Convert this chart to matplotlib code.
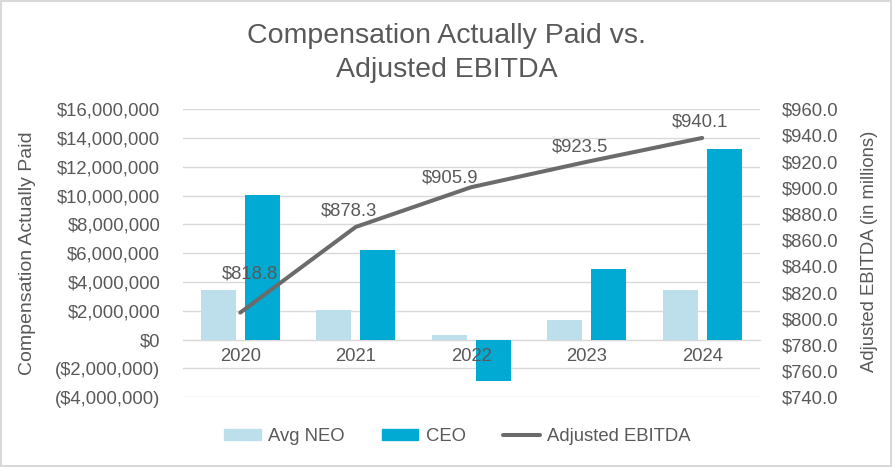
import numpy as np
import matplotlib
matplotlib.use('Agg')
import matplotlib.pyplot as plt
from matplotlib.ticker import FuncFormatter
from matplotlib.patches import Rectangle
from matplotlib.lines import Line2D
from matplotlib.patches import Patch

plt.rcParams['font.family'] = ['Liberation Sans', 'DejaVu Sans']

# datos
years = ['2020', '2021', '2022', '2023', '2024']
avg_neo = [3470000, 2030000, 300000, 1360000, 3470000]
ceo = [10030000, 6240000, -2870000, 4880000, 13230000]
ebitda = [818.8, 878.3, 905.9, 923.5, 940.1]

# desplazamiento de etiquetas (puntos)
label_offsets = [(7, 28), (-4.6, 11.7), (-15, 6.8), (-5, 10.8), (-1.7, 11.7)]

txt = '#595959'
grid_c = '#d9d9d9'
c_neo = '#bddfec'
c_ceo = '#00aad2'
c_line = '#6b6b6b'
fs = 13.3

fig = plt.figure(figsize=(8.93, 4.67), dpi=100)
ax = fig.add_axes([0.2044, 0.1493, 0.6466, 0.6167])

x = np.arange(len(years))
w = 0.303
ax.bar(x - 0.19, avg_neo, w, color=c_neo, zorder=2)
ax.bar(x + 0.19, ceo, w, color=c_ceo, zorder=2)
ax.set_xlim(-0.5, len(years) - 0.5)
ax.set_ylim(-4000000, 16000000)
ax.set_yticks(np.arange(-4000000, 16000001, 2000000))


def money(v, pos):
    if v < 0:
        return '(${:,.0f})'.format(-v)
    return '${:,.0f}'.format(v)


ax.yaxis.set_major_formatter(FuncFormatter(money))
ax.yaxis.grid(True, color=grid_c, lw=1)
ax.yaxis.set_zorder(0.5)
ax.xaxis.set_zorder(4)
for s in ['top', 'left', 'right']:
    ax.spines[s].set_visible(False)
ax.spines['bottom'].set_position(('data', 0))
ax.spines['bottom'].set_color(grid_c)
ax.spines['bottom'].set_zorder(1)
ax.set_xticks(x)
ax.set_xticklabels(years)
ax.tick_params(axis='x', length=0, pad=6, labelsize=fs, labelcolor=txt)
ax.tick_params(axis='y', length=0, pad=16, labelsize=fs, labelcolor=txt)

# eje de la linea
ax2 = ax.twinx()
ax2.plot(x, ebitda, color=c_line, lw=2.9, solid_capstyle='round', zorder=3)
ax2.set_ylim(760, 960)
ax2.set_yticks([])
for s in ax2.spines.values():
    s.set_visible(False)
for xi, v, off in zip(x, ebitda, label_offsets):
    ax2.annotate('${:.1f}'.format(v), (xi, v), xytext=off, textcoords='offset points',
                 ha='center', va='center', fontsize=fs, color=txt)

# eje derecho de etiquetas
ax3 = ax.twinx()
ax3.set_ylim(740, 960)
ax3.set_yticks(np.arange(740, 961, 20))
ax3.yaxis.set_major_formatter(FuncFormatter(lambda v, p: '${:.1f}'.format(v)))
ax3.tick_params(axis='y', length=0, pad=16, labelsize=fs, labelcolor=txt)
for s in ax3.spines.values():
    s.set_visible(False)

fig.text(0.5, 1 - 42.7 / 467, 'Compensation Actually Paid vs.', ha='center', va='baseline',
         fontsize=20.5, color=txt)
fig.text(0.5, 1 - 77.3 / 467, 'Adjusted EBITDA', ha='center', va='baseline',
         fontsize=20.5, color=txt)
fig.text(27.5 / 893, 1 - 253.5 / 467, 'Compensation Actually Paid', rotation=90,
         ha='center', va='center', fontsize=fs + 0.7, color=txt)
fig.text(870 / 893, 1 - 251 / 467, 'Adjusted EBITDA (in millions)', rotation=90,
         ha='center', va='center', fontsize=fs, color=txt)

handles = [Patch(color=c_neo, label='Avg NEO'),
           Patch(color=c_ceo, label='CEO'),
           Line2D([0], [0], color=c_line, lw=2.9, solid_capstyle='round', label='Adjusted EBITDA')]
fig.legend(handles=handles, loc='center', bbox_to_anchor=(0.512, 0.065), ncol=3,
           frameon=False, fontsize=fs, labelcolor=txt, handlelength=2.0,
           handleheight=0.5, handletextpad=0.4, columnspacing=2.0)

fig.patches.append(Rectangle((0.001, 0.002), 0.997, 0.996, transform=fig.transFigure,
                             fill=False, ec=grid_c, lw=1.5))

fig.savefig('out.png', dpi=100)
